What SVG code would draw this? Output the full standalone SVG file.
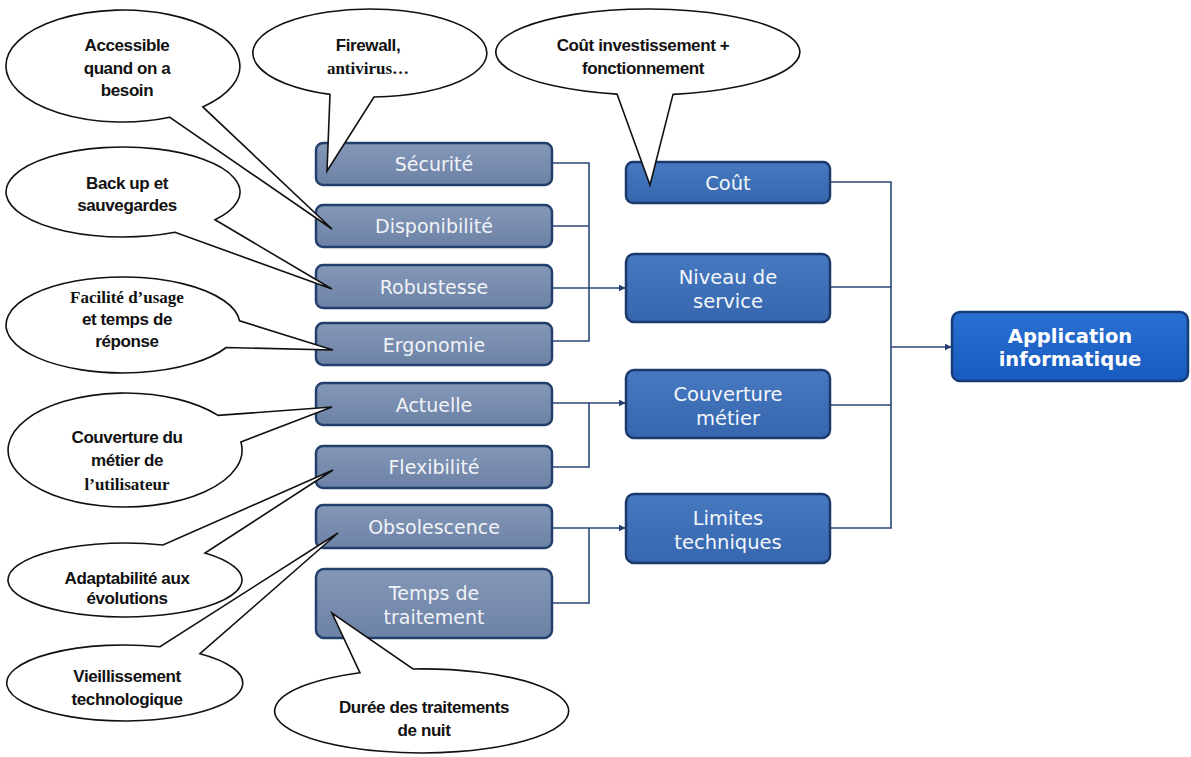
<svg xmlns="http://www.w3.org/2000/svg" width="1191" height="757" viewBox="0 0 1191 757">
<defs>
<linearGradient id="gGrey" x1="0" y1="0" x2="0" y2="1">
<stop offset="0" stop-color="#8497b7"/><stop offset="1" stop-color="#6c82a6"/>
</linearGradient>
<linearGradient id="gBlue" x1="0" y1="0" x2="0" y2="1">
<stop offset="0" stop-color="#4779c0"/><stop offset="1" stop-color="#3566ae"/>
</linearGradient>
<linearGradient id="gApp" x1="0" y1="0" x2="0" y2="1">
<stop offset="0" stop-color="#2a6fd2"/><stop offset="1" stop-color="#185bbf"/>
</linearGradient>
<marker id="arr" viewBox="0 0 10 10" refX="9" refY="5" markerWidth="7" markerHeight="7" markerUnits="userSpaceOnUse" orient="auto">
<path d="M0 0 L10 5 L0 10 Z" fill="#233f70"/>
</marker>
<style>
.grey{fill:url(#gGrey);stroke:#23406c;stroke-width:2.5}
.blue{fill:url(#gBlue);stroke:#1c3a6b;stroke-width:2.5}
.app{fill:url(#gApp);stroke:#173d78;stroke-width:2.5}
.lbl{font-family:"DejaVu Sans",Verdana,sans-serif;font-size:19px;fill:#f1f3f7;text-anchor:middle}
.lblr{font-family:"DejaVu Sans",Verdana,sans-serif;font-size:19.5px;fill:#f4f6fa;text-anchor:middle}
.lblb{font-family:"DejaVu Sans",Verdana,sans-serif;font-size:19.5px;font-weight:bold;fill:#ffffff;text-anchor:middle}
.conn{fill:none;stroke:#2a4677;stroke-width:1.6}
.call{fill:#ffffff;stroke:#111111;stroke-width:1.6;stroke-linejoin:miter}
.ct{font-family:"Liberation Sans",Arial,sans-serif;font-size:17px;font-weight:bold;fill:#111;text-anchor:middle;letter-spacing:-0.4px}
.cs{font-family:"Liberation Serif","Times New Roman",serif;font-size:17px;font-weight:bold;fill:#111;text-anchor:middle}
</style>
</defs>
<rect width="1191" height="757" fill="#ffffff"/>

<g id="connectors">
<path class="conn" d="M552 163 H589 V341 H552 M552 226 H589"/>
<path class="conn" d="M552 288 H625" marker-end="url(#arr)"/>
<path class="conn" d="M552 467 H589 V403"/>
<path class="conn" d="M552 403 H625" marker-end="url(#arr)"/>
<path class="conn" d="M552 603 H589 V528"/>
<path class="conn" d="M552 528 H625" marker-end="url(#arr)"/>
<path class="conn" d="M830 182 H891 V528 H830 M830 287 H891 M830 405 H891"/>
<path class="conn" d="M891 347 H951" marker-end="url(#arr)"/>
</g>

<g id="n-securite"><rect class="grey" x="316" y="143" width="236" height="42" rx="7"/><text class="lbl" x="434" y="171">Sécurité</text></g>
<g id="n-disponibilite"><rect class="grey" x="316" y="205" width="236" height="42" rx="7"/><text class="lbl" x="434" y="233">Disponibilité</text></g>
<g id="n-robustesse"><rect class="grey" x="316" y="265" width="236" height="43" rx="7"/><text class="lbl" x="434" y="294">Robustesse</text></g>
<g id="n-ergonomie"><rect class="grey" x="316" y="323" width="236" height="42" rx="7"/><text class="lbl" x="434" y="352">Ergonomie</text></g>
<g id="n-actuelle"><rect class="grey" x="316" y="383" width="236" height="42" rx="7"/><text class="lbl" x="434" y="412">Actuelle</text></g>
<g id="n-flexibilite"><rect class="grey" x="316" y="446" width="236" height="42" rx="7"/><text class="lbl" x="434" y="474">Flexibilité</text></g>
<g id="n-obsolescence"><rect class="grey" x="316" y="505" width="236" height="43" rx="7"/><text class="lbl" x="434" y="534">Obsolescence</text></g>
<g id="n-temps"><rect class="grey" x="316" y="569" width="236" height="69" rx="8"/><text class="lbl" x="434" y="600">Temps de</text><text class="lbl" x="434" y="624">traitement</text></g>

<g id="n-cout"><rect class="blue" x="626" y="162" width="204" height="41" rx="7"/><text class="lblr" x="728" y="190">Coût</text></g>
<g id="n-niveau"><rect class="blue" x="626" y="254" width="204" height="68" rx="8"/><text class="lblr" x="728" y="284">Niveau de</text><text class="lblr" x="728" y="308">service</text></g>
<g id="n-couverture"><rect class="blue" x="626" y="370" width="204" height="68" rx="8"/><text class="lblr" x="728" y="401">Couverture</text><text class="lblr" x="728" y="425">métier</text></g>
<g id="n-limites"><rect class="blue" x="626" y="494" width="204" height="69" rx="8"/><text class="lblr" x="728" y="525">Limites</text><text class="lblr" x="728" y="549">techniques</text></g>

<g id="n-application"><rect class="app" x="952" y="312" width="236" height="69" rx="8"/><text class="lblb" x="1070" y="343">Application</text><text class="lblb" x="1070" y="366">informatique</text></g>

<g id="c-accessible"><path class="call" d="M202.8 106.9 A117 56 0 1 0 169.8 117.3 L332 229 Z"/>
<text class="ct" x="127" y="51">Accessible</text><text class="ct" x="127" y="74">quand on a</text><text class="ct" x="127" y="96">besoin</text></g>

<g id="c-firewall"><path class="call" d="M374 97 A117 44 0 1 0 330 94.4 L327 171 Z"/>
<text class="ct" x="368" y="51">Firewall,</text><text class="cs" x="368" y="74">antivirus…</text></g>

<g id="c-cout"><path class="call" d="M673 94.4 A152 43 0 1 0 617 94.1 L650 185 Z"/>
<text class="ct" x="643" y="51">Coût investissement +</text><text class="ct" x="643" y="74">fonctionnement</text></g>

<g id="c-backup"><path class="call" d="M215 219.8 A117 45 0 1 0 175 232.3 L332 289 Z"/>
<text class="ct" x="127" y="189">Back up et</text><text class="ct" x="127" y="211">sauvegardes</text></g>

<g id="c-facilite"><path class="call" d="M239.6 320.8 A117 48 0 1 0 226.3 347.5 L333 350 Z"/>
<text class="cs" x="127" y="303">Facilité d’usage</text><text class="ct" x="127" y="325">et temps de</text><text class="ct" x="127" y="347">réponse</text></g>

<g id="c-couverture"><path class="call" d="M218 415.4 A117 57 0 1 0 240.9 442 L332 407 Z"/>
<text class="ct" x="127" y="443">Couverture du</text><text class="ct" x="127" y="466">métier de</text><text class="cs" x="127" y="490">l’utilisateur</text></g>

<g id="c-adaptabilite"><path class="call" d="M163 545 A117 37 0 1 0 205 553 L333 470 Z"/>
<text class="ct" x="127" y="584">Adaptabilité aux</text><text class="ct" x="127" y="604">évolutions</text></g>

<g id="c-vieillissement"><path class="call" d="M160 646.7 A118 38 0 1 0 200 653.7 L338 533 Z"/>
<text class="ct" x="127" y="682">Vieillissement</text><text class="ct" x="127" y="705">technologique</text></g>

<g id="c-duree"><path class="call" d="M360 672.8 A147 42 0 1 0 413 669 L332 613 Z"/>
<text class="ct" x="424" y="713">Durée des traitements</text><text class="ct" x="424" y="736">de nuit</text></g>
</svg>
